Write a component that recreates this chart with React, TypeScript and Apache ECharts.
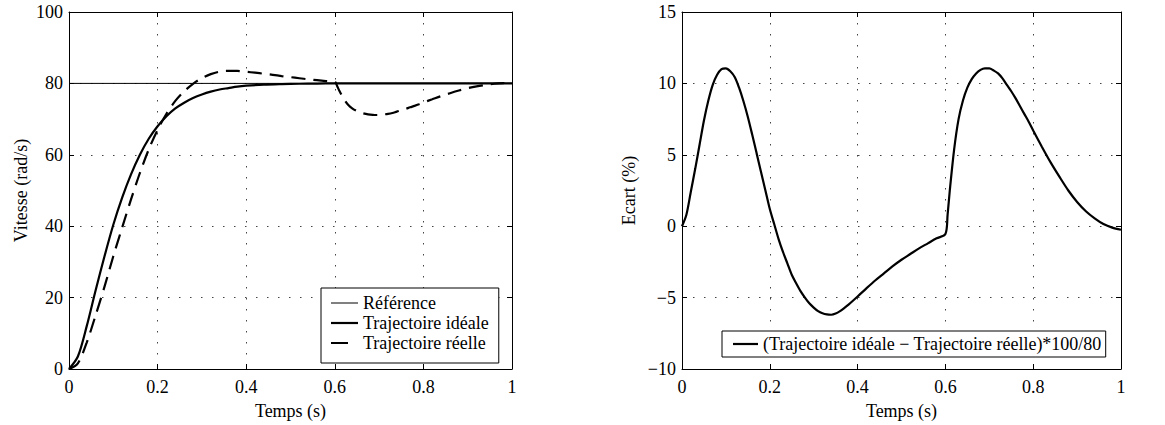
import React, { useEffect, useRef } from "react";
import * as echarts from "echarts";

// ---- Data ----
const xTicks = [0, 0.2, 0.4, 0.6, 0.8, 1];

const tRef = [0, 1];
const vRef = [80, 80];

const tIdeal = [0, 0.02, 0.04, 0.06, 0.08, 0.1, 0.12, 0.14, 0.16, 0.18, 0.2, 0.22, 0.24, 0.26, 0.28, 0.3, 0.32, 0.34, 0.36, 0.38, 0.4,
  0.44, 0.48, 0.52, 0.56, 0.6, 0.7, 0.8, 0.9, 1.0];
const vIdeal = [0, 3.5, 12, 22, 31.5, 40.4, 48, 54.5, 60, 64.5, 68, 70.8, 73, 74.6, 75.9, 76.9, 77.7, 78.3, 78.7, 79.1, 79.35,
  79.65, 79.8, 79.9, 79.95, 80, 80, 80, 80, 80];

const tReal = [0, 0.02, 0.04, 0.06, 0.08, 0.1, 0.12, 0.14, 0.16, 0.18, 0.2, 0.22, 0.24, 0.26, 0.28, 0.3, 0.32, 0.34, 0.36, 0.38, 0.4,
  0.42, 0.44, 0.46, 0.48, 0.5, 0.52, 0.54, 0.56, 0.58, 0.6,
  0.605, 0.61, 0.62, 0.63, 0.64, 0.65, 0.66, 0.67, 0.68, 0.69, 0.7, 0.71, 0.72, 0.73, 0.74, 0.75, 0.76, 0.77, 0.78, 0.79, 0.8,
  0.82, 0.84, 0.86, 0.88, 0.9, 0.92, 0.94, 0.96, 0.98, 1.0];
const vReal = [0, 1.6, 7.4, 15, 23, 31.6, 39.6, 47.5, 54.9, 61.5, 67, 71.5, 75.1, 77.8, 79.9, 81.5, 82.6, 83.3, 83.5, 83.5, 83.25,
  83.0, 82.7, 82.4, 82.05, 81.75, 81.45, 81.15, 80.9, 80.65, 80.45,
  79.35, 78.0, 75.7, 74.0, 72.95, 72.25, 71.75, 71.45, 71.25, 71.15, 71.15, 71.3, 71.45, 71.7, 72.1, 72.45, 72.85, 73.3, 73.7, 74.15, 74.65,
  75.55, 76.45, 77.25, 78.0, 78.65, 79.15, 79.55, 79.9, 80.1, 80.2];

const tErr = [0, 0.01, 0.02, 0.03, 0.04, 0.05, 0.06, 0.07, 0.08, 0.09, 0.1, 0.11, 0.12, 0.13, 0.14, 0.15, 0.16, 0.17, 0.18, 0.19, 0.2,
  0.21, 0.22, 0.23, 0.24, 0.25, 0.26, 0.27, 0.28, 0.29, 0.3, 0.31, 0.32, 0.33, 0.34, 0.35, 0.36, 0.37, 0.38, 0.39, 0.4,
  0.42, 0.44, 0.46, 0.48, 0.5, 0.52, 0.54, 0.56, 0.58, 0.6,
  0.605, 0.61, 0.62, 0.63, 0.64, 0.65, 0.66, 0.67, 0.68, 0.69, 0.7, 0.71, 0.72, 0.73, 0.74, 0.75, 0.76, 0.77, 0.78, 0.79, 0.8,
  0.82, 0.84, 0.86, 0.88, 0.9, 0.92, 0.94, 0.96, 0.98, 1.0];
const vErr = [0, 0.8, 2.4, 4.0, 5.7, 7.4, 8.8, 9.9, 10.6, 11.0, 11.05, 10.85, 10.45, 9.7, 8.75, 7.65, 6.4, 5.1, 3.8, 2.5, 1.2,
  0.15, -0.9, -1.8, -2.6, -3.4, -4.0, -4.55, -5.0, -5.4, -5.7, -5.95, -6.1, -6.18, -6.2, -6.12, -5.95, -5.72, -5.47, -5.2, -4.92,
  -4.35, -3.8, -3.3, -2.8, -2.35, -1.95, -1.55, -1.2, -0.85, -0.55,
  0.8, 2.5, 5.4, 7.5, 8.8, 9.7, 10.3, 10.7, 10.95, 11.05, 11.05, 10.9, 10.7, 10.35, 9.9, 9.45, 8.95, 8.4, 7.85, 7.3, 6.7,
  5.55, 4.45, 3.45, 2.5, 1.7, 1.05, 0.55, 0.15, -0.1, -0.25];

const NAME_REF = "Référence";
const NAME_IDEAL = "Trajectoire idéale";
const NAME_REAL = "Trajectoire réelle";
const NAME_ERR = "(Trajectoire idéale \u2212 Trajectoire réelle)*100/80";

const zip = (t: number[], v: number[]) => t.map((x, i) => [x, v[i]]);

const FONT = "Liberation Serif";
const FS = 18;
const DASH = [14, 8];

// legend icons: thin filled bars (a dot far right keeps the 27px extent for the short dash)
const ICON_THIN = "path://M0,0H27V1H0Z";
const ICON_THICK = "path://M0,0H27V2.2H0Z";
const ICON_DASH = "path://M0,0H17V2.2H0ZM26.9,0H27V0.05H26.9Z";
const ICON_THICK25 = "path://M0,0H25V2.2H0Z";

function buildOption() {
  const grids = [
    { left: 69, top: 12, width: 443, height: 357 },
    { left: 682, top: 12, width: 439, height: 357 },
  ];
  const axisLine = { show: true, onZero: false, lineStyle: { color: "#000", width: 1 } };
  const tickIn = { show: true, inside: true, length: 5, lineStyle: { color: "#000", width: 1 } };
  const split = { show: true, lineStyle: { color: "#444", width: 1, type: [1.5, 9.5] } };
  const fmt = (v: number) => String(v).replace("-", "\u2212");

  const xMain = (gi: number) => ({
    type: "value", gridIndex: gi, min: 0, max: 1, interval: 0.2, position: "bottom",
    axisLine, axisTick: tickIn, splitLine: split,
    axisLabel: { color: "#000", fontFamily: FONT, fontSize: FS, margin: 9, formatter: fmt },
    name: "Temps (s)", nameLocation: "middle", nameGap: 33,
    nameTextStyle: { color: "#000", fontFamily: FONT, fontSize: FS },
  });
  const xTop = (gi: number) => ({
    type: "value", gridIndex: gi, min: 0, max: 1, interval: 0.2, position: "top",
    axisLine, axisTick: tickIn, splitLine: { show: false }, axisLabel: { show: false },
  });
  const yMain = (gi: number, min: number, max: number, interval: number, name: string, gap: number) => ({
    type: "value", gridIndex: gi, min, max, interval, position: "left",
    axisLine, axisTick: tickIn, splitLine: split,
    axisLabel: { color: "#000", fontFamily: FONT, fontSize: FS, margin: 6, formatter: fmt },
    name, nameLocation: "middle", nameGap: gap,
    nameTextStyle: { color: "#000", fontFamily: FONT, fontSize: FS },
  });
  const yRight = (gi: number, min: number, max: number, interval: number) => ({
    type: "value", gridIndex: gi, min, max, interval, position: "right",
    axisLine, axisTick: tickIn, splitLine: { show: false }, axisLabel: { show: false },
  });

  const iconStyle = { opacity: 1, color: "#000", borderWidth: 0 };
  const legendBase = {
    orient: "vertical",
    backgroundColor: "#fff",
    borderColor: "#000",
    borderWidth: 1,
    borderRadius: 0,
    itemHeight: 12,
    symbolKeepAspect: true,
    textStyle: { color: "#000", fontFamily: FONT, fontSize: FS },
  };

  return {
    animation: false,
    backgroundColor: "#fff",
    textStyle: { fontFamily: FONT },
    grid: grids,
    xAxis: [xMain(0), xTop(0), xMain(1), xTop(1)],
    yAxis: [
      yMain(0, 0, 100, 20, "Vitesse (rad/s)", 39),
      yRight(0, 0, 100, 20),
      yMain(1, -10, 15, 5, "Ecart (%)", 44),
      yRight(1, -10, 15, 5),
    ],
    legend: [
      {
        ...legendBase,
        left: 321, top: 288,
        padding: [6, 10, 11, 10],
        itemGap: 2,
        itemWidth: 27,
        data: [
          { name: NAME_REF, icon: ICON_THIN, itemStyle: iconStyle },
          { name: NAME_IDEAL, icon: ICON_THICK, itemStyle: iconStyle },
          { name: NAME_REAL, icon: ICON_DASH, itemStyle: iconStyle },
        ],
      },
      {
        ...legendBase,
        left: 722, top: 331,
        padding: [4, 4, 4, 11],
        itemWidth: 25,
        data: [{ name: NAME_ERR, icon: ICON_THICK25, itemStyle: iconStyle }],
      },
    ],
    series: [
      {
        name: NAME_REF, type: "line", xAxisIndex: 0, yAxisIndex: 0,
        data: zip(tRef, vRef), symbol: "none", itemStyle: { color: "#000" }, lineStyle: { color: "#000", width: 1 },
      },
      {
        name: NAME_IDEAL, type: "line", xAxisIndex: 0, yAxisIndex: 0, smooth: 0.3,
        data: zip(tIdeal, vIdeal), symbol: "none", itemStyle: { color: "#000" }, lineStyle: { color: "#000", width: 2.2 },
      },
      {
        name: NAME_REAL, type: "line", xAxisIndex: 0, yAxisIndex: 0, smooth: 0.3,
        data: zip(tReal, vReal), symbol: "none", itemStyle: { color: "#000" }, lineStyle: { color: "#000", width: 2.2, type: DASH },
      },
      {
        name: NAME_ERR, type: "line", xAxisIndex: 2, yAxisIndex: 2, smooth: 0.3,
        data: zip(tErr, vErr), symbol: "none", itemStyle: { color: "#000" }, lineStyle: { color: "#000", width: 2.2 },
      },
    ],
  };
}

export default function App() {
  const ref = useRef<HTMLDivElement>(null);
  useEffect(() => {
    if (!ref.current) return;
    const chart = echarts.init(ref.current, null, { renderer: "svg" });
    chart.setOption(buildOption() as any);
    return () => chart.dispose();
  }, []);
  return (
    <div
      ref={ref}
      style={{ position: "absolute", left: 0, top: 0, width: 1165, height: 425, background: "#fff" }}
    />
  );
}
